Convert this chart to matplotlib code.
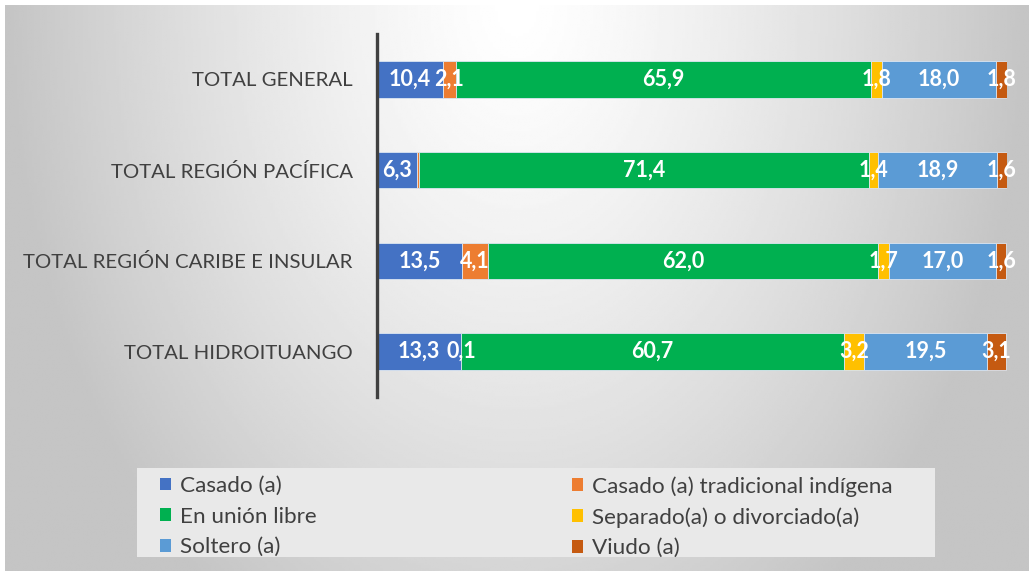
import numpy as np
import matplotlib.pyplot as plt
from matplotlib.patches import Patch, Rectangle

W, H = 1029, 571

categories = ['TOTAL GENERAL', 'TOTAL REGIÓN PACÍFICA',
              'TOTAL REGIÓN CARIBE E INSULAR', 'TOTAL HIDROITUANGO']
series_names = ['Casado (a)', 'Casado (a) tradicional indígena', 'En unión libre',
                'Separado(a) o divorciado(a)', 'Soltero (a)', 'Viudo (a)']
casado = [10.4, 6.3, 13.5, 13.3]
casado_indigena = [2.1, 0.4, 4.1, 0.1]
union_libre = [65.9, 71.4, 62.0, 60.7]
separado = [1.8, 1.4, 1.7, 3.2]
soltero = [18.0, 18.9, 17.0, 19.5]
viudo = [1.8, 1.6, 1.6, 3.1]
series = [casado, casado_indigena, union_libre, separado, soltero, viudo]
colors = ['#4472C4', '#ED7D31', '#00B050', '#FFC000', '#5B9BD5', '#C55A11']
# labels not shown in the original (series index, row index)
hidden_labels = {(1, 1)}

plt.rcParams['font.family'] = ['Lato', 'DejaVu Sans']

fig = plt.figure(figsize=(W / 100, H / 100), dpi=100)
fig.patch.set_facecolor('white')

# radial gradient background
bg = fig.add_axes([5 / W, 0, 1 - 5 / W, 1 - 5 / H], zorder=-10)
gx, gy = np.meshgrid(np.linspace(0, 1, 400), np.linspace(0, 1, 250))
r = np.sqrt(((gx - 0.5) / 0.5) ** 2 + (gy / 1.3) ** 2)
val = 1 - 0.23 * np.clip(r, 0, 1) ** 1.3
bg.imshow(val, cmap='gray', vmin=0, vmax=1, aspect='auto', extent=(0, 1, 1, 0))
bg.axis('off')

# legend box
fig.patches.append(Rectangle((137 / W, (H - 557) / H), (935 - 137) / W, 89 / H,
                             transform=fig.transFigure, facecolor='#e9e9e9',
                             edgecolor='none', zorder=-5))

ax = fig.add_axes([377 / W, (H - 397) / H, 630 / W, 363 / H])
ax.patch.set_alpha(0)
ypos = np.arange(len(categories))[::-1]
left = np.zeros(len(categories))
for si, (vals, col) in enumerate(zip(series, colors)):
    vals = np.array(vals)
    ax.barh(ypos, vals, left=left, height=0.4, color=col, edgecolor='#dce6f2',
            linewidth=0.6, label=series_names[si])
    for ri, (v, l0) in enumerate(zip(vals, left)):
        if (si, ri) in hidden_labels:
            continue
        ax.text(l0 + v / 2, ypos[ri], f'{v:.1f}'.replace('.', ','), ha='center',
                va='center', color='white', fontsize=15.5, fontweight='bold')
    left += vals

ax.set_xlim(0, 100)
ax.set_ylim(-0.5, 3.5)
ax.set_xticks([])
ax.set_yticks(ypos)
ax.set_yticklabels(categories, fontsize=14.7, color='#404040')
ax.tick_params(axis='y', length=0, pad=17.5)
for s in ['top', 'right', 'bottom']:
    ax.spines[s].set_visible(False)
ax.spines['left'].set_color('#404040')
ax.spines['left'].set_linewidth(2.4)

handles = [Patch(facecolor=c, edgecolor='none') for c in colors]
col1 = [0, 2, 4]
col2 = [1, 3, 5]
for idx, x0 in [(col1, 151), (col2, 563)]:
    lg = fig.legend([handles[i] for i in idx], [series_names[i] for i in idx],
                    loc='upper left', bbox_to_anchor=(x0 / W, (H - 467) / H),
                    frameon=False, fontsize=16.2, handlelength=0.5, handleheight=0.5,
                    handletextpad=0.4, labelspacing=0.47, borderaxespad=0,
                    labelcolor='#404040')

fig.savefig('out.png', dpi=100)
